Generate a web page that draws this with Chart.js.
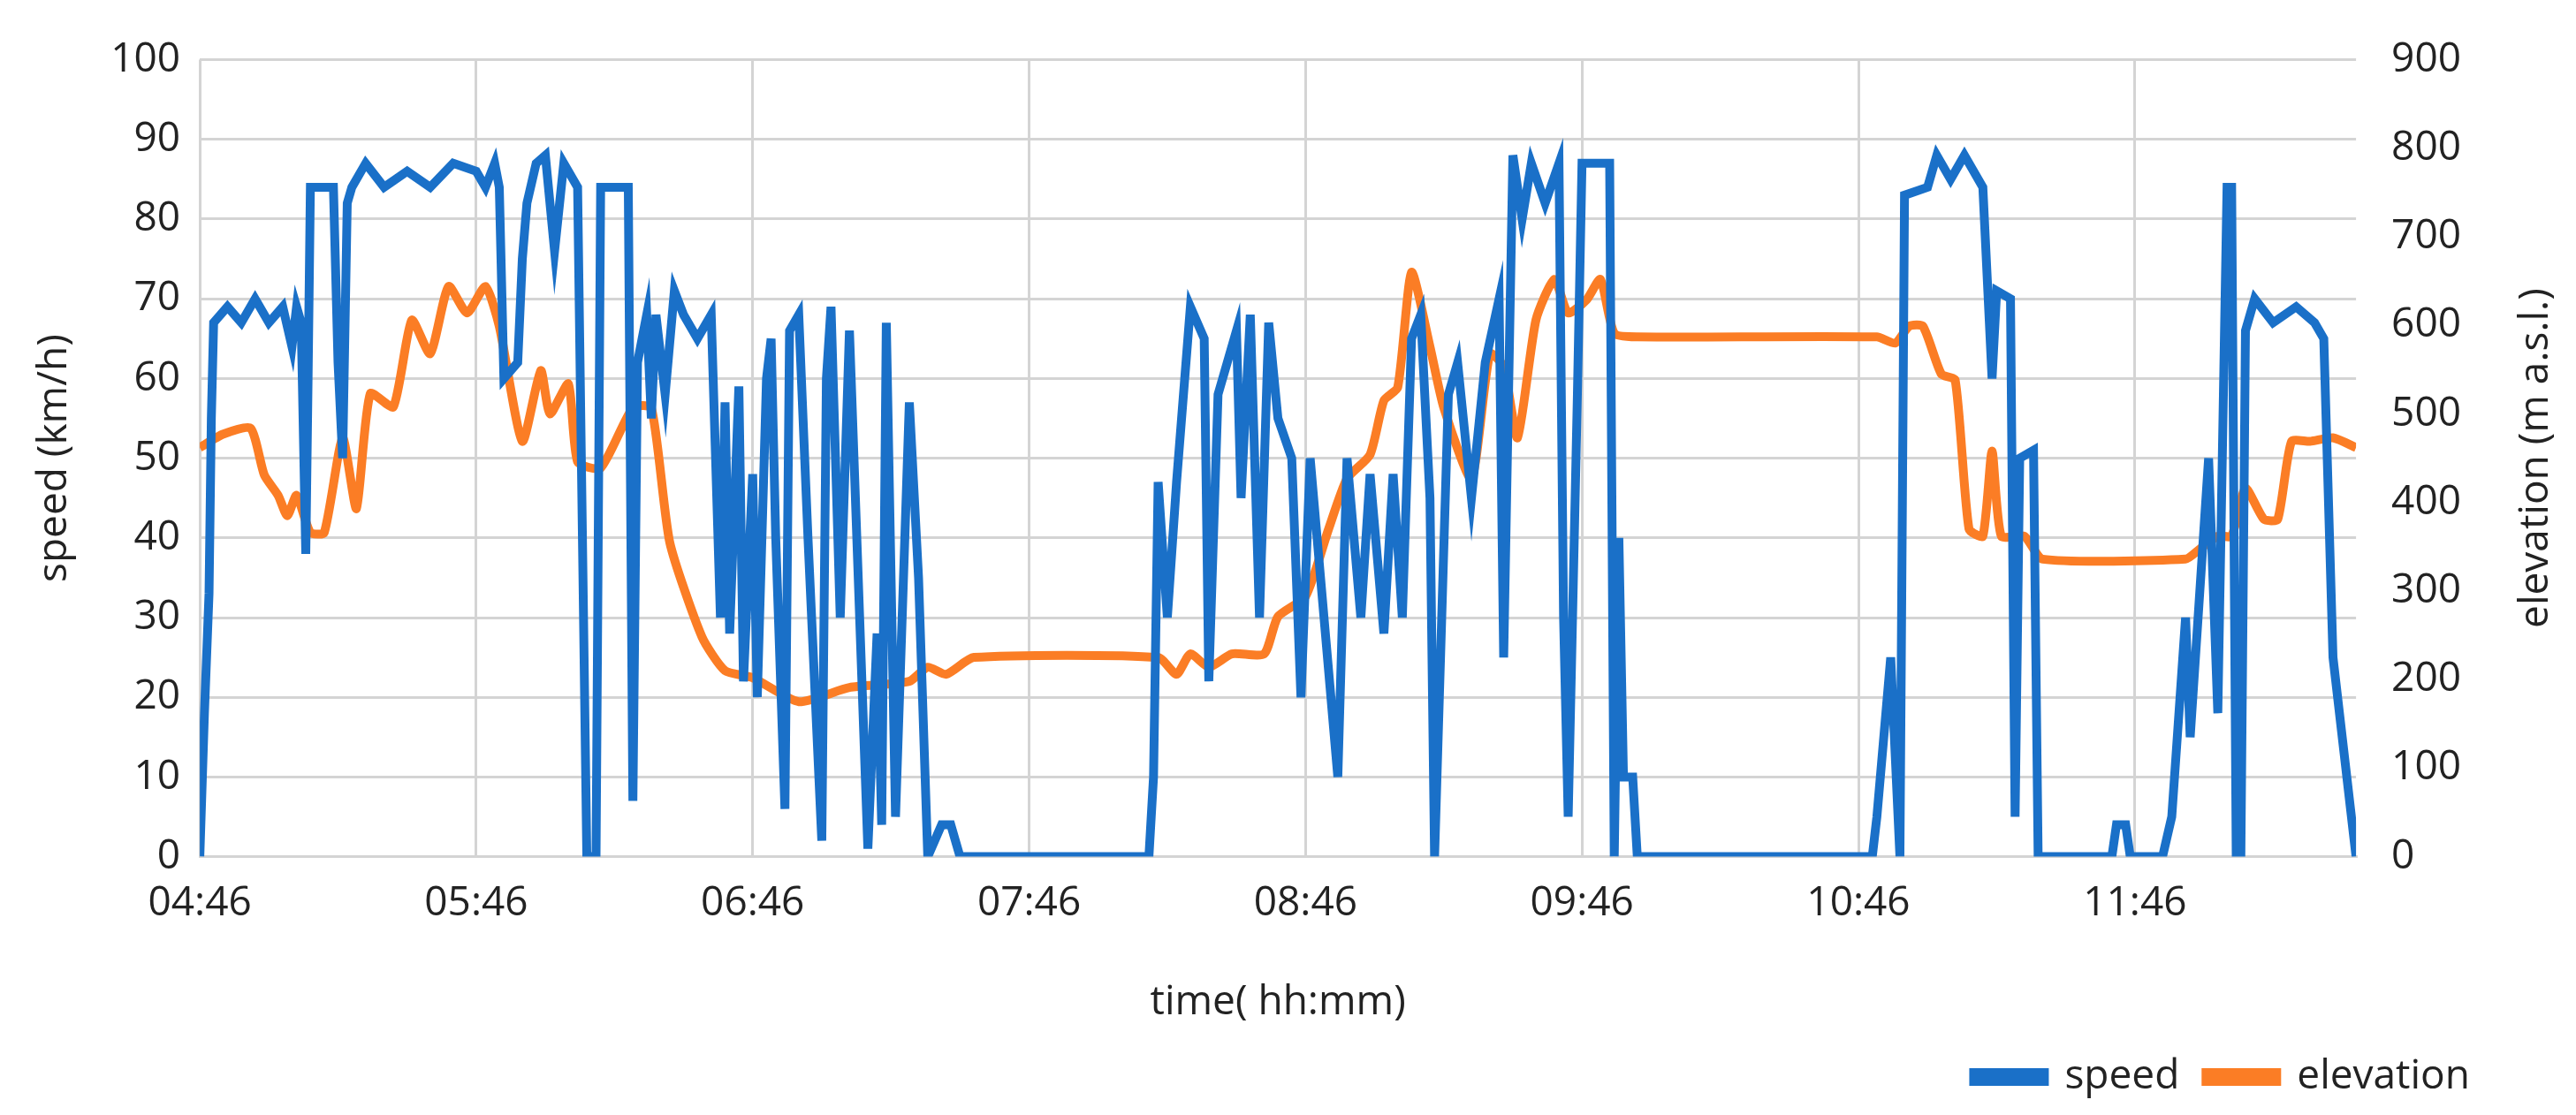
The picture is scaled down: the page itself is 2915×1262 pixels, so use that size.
<!DOCTYPE html>
<html>
<head>
<meta charset="utf-8">
<script src="https://cdn.jsdelivr.net/npm/chart.js@4.4.1/dist/chart.umd.min.js"></script>
<style>
  html, body { margin: 0; padding: 0; background: #fff; }
  #wrap { width: 2915px; height: 1262px; }
</style>
</head>
<body>
<div id="wrap"><canvas id="c"></canvas></div>
<script>
// [minutes after 04:46, km/h]
const speedPoints = [
  [0,0],[1,18],[2,33],[2.5,55],[3,67],[6,69],[9,67],[12,70],[15,67],[18,69],[20,64],[21,69],[22,67],[23,38],[23.5,60],
  [24,84],[29,84],[30,62],[31,50],[32,82],[33,84],[36,87],[40,84],[45,86],[50,84],[55,87],[60,86],[62,84],[64,87],[65,84],
  [66,60],[69,62],[70,75],[71,82],[73,87],[75,88],[77,76],[79,87],[82,84],[84,0],[86,0],[87,84],[93,84],
  [94,7],[95,62],[97,68],[98,55],[99,68],[101,58],[103,71],[105,68],[108,65],[111,68],[113,30],[114,57],[115,28],[117,59],
  [118,22],[120,48],[121,20],[123,60],[124,65],[125,40],[127,6],[128,66],[130,68],[132,40],[135,2],[136,60],[137,69],
  [139,30],[141,66],[145,1],[147,28],[148,4],[149,67],[151,5],[154,57],[156,35],[158,0],[161,4],[163,4],[165,0],
  [206,0],[207,10],[208,47],[210,30],[212,47],[215,69],[218,65],[219,22],[221,58],[225,66],[226,45],[228,68],[230,30],
  [232,67],[234,55],[237,50],[239,20],[241,50],[247,10],[249,50],[252,30],[254,48],[257,28],[259,48],[261,30],[263,65],
  [265,68],[267,45],[268,0],[271,58],[273,62],[276,45],[279,62],[282,70],[283,25],[285,88],[287,80],[289,87],[292,82],
  [295,87],[296,30],[297,5],[299,58],[300,87],[306,87],[307,0],[308,40],[309,10],[311,10],[312,0],
  [363,0],[364,5],[367,25],[369,0],[370,83],[375,84],[377,88],[380,85],[383,88],[387,84],[389,60],[390,71],[393,70],
  [394,5],[395,50],[398,51],[399,0],[415,0],[416,4],[418,4],[419,0],[426,0],[428,5],[431,30],[432,15],[436,50],
  [438,18],[440,84],[441,84],[442,0],[443,0],[444,66],[446,70],[450,67],[455,69],[459,67],[461,65],[463,25],[468,0]
];
const elevTime = [0,5,11,14,17,19,21,24,27,31,34,37,42,46,50,54,58,62,65,70,74,76,80,82,87,94,98,102,109,114,120,130,141,154,158,162,168,208,212,215,219,224,231,234,240,245,249,254,257,260,263,267,270,276,280,283,286,290,294,297,301,304,307,312,364,368,371,374,378,381,384,387,389,391,396,400,431,434,438,441,444,448,451,454,458,463,468];
const elevVals = [462,477,484,431,408,385,408,366,366,473,393,523,508,606,568,644,614,644,599,469,549,500,534,446,439,507,507,355,248,210,202,175,191,198,214,206,225,225,206,229,214,229,229,271,294,370,427,454,515,530,660,576,507,427,568,553,473,606,652,614,629,652,591,587,587,580,599,599,545,538,370,362,458,362,362,336,336,347,362,362,416,381,381,469,469,473,462];
const hourTicks = ['04:46','05:46','06:46','07:46','08:46','09:46','10:46','11:46'];

const font = { family: "'Open Sans', 'Noto Sans', sans-serif", size: 46 };

// right axis title reads bottom-to-top like the left one
const rightTitle = {
  id: 'rightTitle',
  afterDraw(chart) {
    const { ctx, chartArea } = chart;
    ctx.save();
    ctx.translate(2870, (chartArea.top + chartArea.bottom) / 2);
    ctx.rotate(-Math.PI / 2);
    ctx.font = `${font.size}px ${font.family}`;
    ctx.fillStyle = '#222';
    ctx.textAlign = 'center';
    ctx.textBaseline = 'middle';
    ctx.fillText('elevation (m a.s.l.)', 0, 0);
    ctx.restore();
  }
};

new Chart(document.getElementById('c'), {
  type: 'line',
  data: {
    datasets: [
      { label: 'speed', data: speedPoints.map(p => ({ x: p[0], y: p[1] })), yAxisID: 'y', borderColor: '#1a70c8', backgroundColor: '#1a70c8', borderWidth: 10, pointRadius: 0, tension: 0 },
      { label: 'elevation', data: elevTime.map((x, i) => ({ x, y: elevVals[i] })), yAxisID: 'y2', borderColor: '#fb7d25', backgroundColor: '#fb7d25', borderWidth: 10, pointRadius: 0, tension: 0.2 }
    ]
  },
  options: {
    responsive: true,
    maintainAspectRatio: false,
    animation: false,
    layout: { padding: { left: 30, right: 90, top: 45, bottom: 10 } },
    scales: {
      x: {
        type: 'linear', min: 0, max: 468,
        afterBuildTicks: ax => { ax.ticks = hourTicks.map((t, i) => ({ value: i * 60 })); },
        ticks: { color: '#222', font, padding: 26, callback: (v) => hourTicks[v / 60] },
        grid: { color: '#d4d4d4', lineWidth: 3, drawTicks: false },
        border: { color: '#d4d4d4', width: 3 },
        title: { display: true, text: 'time( hh:mm)', color: '#222', font, padding: { top: 30 } }
      },
      y: {
        position: 'left', min: 0, max: 100,
        ticks: { stepSize: 10, color: '#222', font, padding: 22 },
        grid: { color: '#d4d4d4', lineWidth: 3, drawTicks: false },
        border: { display: false },
        title: { display: true, text: 'speed (km/h)', color: '#222', font, padding: { bottom: 14 } }
      },
      y2: {
        position: 'right', min: 0, max: 900,
        ticks: { stepSize: 100, color: '#222', font, padding: 40 },
        grid: { display: false, drawTicks: false },
        border: { display: false }
      }
    },
    plugins: {
      legend: {
        position: 'bottom', align: 'end',
        labels: { color: '#222', font, boxWidth: 80, boxHeight: 10, padding: 30 }
      },
      tooltip: { enabled: false }
    }
  },
  plugins: [rightTitle]
});
</script>
</body>
</html>
